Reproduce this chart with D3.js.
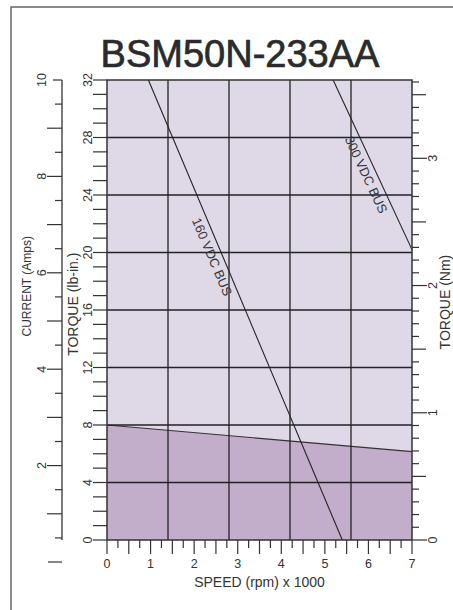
<!DOCTYPE html>
<html>
<head>
<meta charset="utf-8">
<script src="https://cdn.jsdelivr.net/npm/d3@7"></script>
<style>
  html, body { margin: 0; padding: 0; background: #fff; }
  svg { display: block; }
  text { font-family: "Liberation Sans", Arial, Helvetica, sans-serif; fill: #333; }
</style>
</head>
<body>
<svg id="chart" width="453" height="610"></svg>
<script>
// ---- data ----
const title = "BSM50N-233AA";
const speedTicks = [0, 1, 2, 3, 4, 5, 6, 7];           // krpm
const gridSpeeds = [1.4, 2.8, 4.2, 5.6];                // vertical grid lines (krpm)
const torqueTicks = [0, 4, 8, 12, 16, 20, 24, 28, 32];  // lb-in labels
const torqueGrid = [4, 8, 12, 16, 20, 24, 28];          // horizontal grid lines
const currentTicks = [2, 4, 6, 8, 10];                  // Amps labels
const nmTicks = [0, 1, 2, 3];                           // N·m labels
const contSpeed = [0, 7];                               // continuous-duty boundary
const contTorque = [8, 6.15];
const bus160Speed = [0.95, 5.40];
const bus160Torque = [32, 0];
const bus300Speed = [5.19, 7.0];
const bus300Torque = [32, 20.2];
const lineLabels = ["160 VDC BUS", "300 VDC BUS"];
const LBIN_PER_NM = 8.8507;

// ---- layout ----
const svg = d3.select("#chart");
const L = 107, R = 412, T = 80, B = 540;
const x = d3.scaleLinear().domain([0, 7]).range([L, R]);
const y = d3.scaleLinear().domain([0, 32]).range([B, T]);
const yA = d3.scaleLinear().domain([0, 10]).range([562, T]);
const yN = d3.scaleLinear().domain([0, 32 / LBIN_PER_NM]).range([B, T]);

// outer frame (only top/left visible)
svg.append("path").attr("d", `M11,610 L11,7 L453,7`)
  .attr("fill", "none").attr("stroke", "#666").attr("stroke-width", 1.5);

// title
svg.append("text").attr("x", 240).attr("y", 67).attr("text-anchor", "middle")
  .attr("font-size", 38).style("fill", "#2b2b2b")
  .attr("stroke", "#2b2b2b").attr("stroke-width", 0.7).text(title);

// regions
svg.append("rect").attr("x", L).attr("y", T).attr("width", R - L).attr("height", B - T)
  .attr("fill", "#dfd8e6");
const contPts = [[x(0), y(0)]].concat(contSpeed.map((s, i) => [x(s), y(contTorque[i])])).concat([[x(7), y(0)]]);
svg.append("path").attr("d", d3.line()(contPts)).attr("fill", "#c2aecb");
svg.append("path").attr("d", d3.line()(contSpeed.map((s, i) => [x(s), y(contTorque[i])])))
  .attr("stroke", "#333").attr("stroke-width", 1.2).attr("fill", "none");

// grid
svg.append("g").selectAll("line").data(gridSpeeds).join("line")
  .attr("x1", d => x(d)).attr("x2", d => x(d)).attr("y1", T).attr("y2", B)
  .attr("stroke", "#222").attr("stroke-width", 1.3);
svg.append("g").selectAll("line").data(torqueGrid).join("line")
  .attr("x1", L).attr("x2", R).attr("y1", d => y(d)).attr("y2", d => y(d))
  .attr("stroke", "#222").attr("stroke-width", 1.3);

// bus lines
const buses = [
  {s: bus160Speed, t: bus160Torque, label: lineLabels[0], frac: 0.376},
  {s: bus300Speed, t: bus300Torque, label: lineLabels[1], frac: 0.534}
];
buses.forEach(b => {
  const p0 = [x(b.s[0]), y(b.t[0])], p1 = [x(b.s[1]), y(b.t[1])];
  svg.append("line").attr("x1", p0[0]).attr("y1", p0[1]).attr("x2", p1[0]).attr("y2", p1[1])
    .attr("stroke", "#222").attr("stroke-width", 1.1);
  const ang = Math.atan2(p1[1] - p0[1], p1[0] - p0[0]);
  const px = p0[0] + (p1[0] - p0[0]) * b.frac, py = p0[1] + (p1[1] - p0[1]) * b.frac;
  const off = 10;
  const cx = px - Math.sin(ang) * off, cy = py + Math.cos(ang) * off;
  svg.append("text").attr("transform", `translate(${cx},${cy}) rotate(${ang * 180 / Math.PI})`)
    .attr("text-anchor", "middle").attr("dy", "0.35em").attr("font-size", 13).text(b.label);
});

// plot frame
svg.append("rect").attr("x", L).attr("y", T).attr("width", R - L).attr("height", B - T)
  .attr("fill", "none").attr("stroke", "#333").attr("stroke-width", 1.5);

// x axis ticks
const xMinor = d3.range(0, 7.001, 0.25);
svg.append("g").selectAll("line").data(xMinor).join("line")
  .attr("x1", d => x(d)).attr("x2", d => x(d)).attr("y1", B)
  .attr("y2", d => (Math.abs(d * 2 - Math.round(d * 2)) < 1e-6) ? B + 14 : B + 8)
  .attr("stroke", "#333").attr("stroke-width", 1.2);
svg.append("g").selectAll("text").data(speedTicks).join("text")
  .attr("x", d => x(d)).attr("y", 567.5).attr("text-anchor", "middle")
  .attr("font-size", 12.5).text(d => d);
svg.append("text").attr("x", x(3.5)).attr("y", 587).attr("text-anchor", "middle")
  .attr("font-size", 14).text("SPEED (rpm) x 1000");

// left torque axis (lb-in)
svg.append("g").selectAll("line").data(d3.range(0, 33, 1)).join("line")
  .attr("x1", L - 14).attr("x2", L).attr("y1", d => y(d)).attr("y2", d => y(d))
  .attr("stroke", "#333").attr("stroke-width", 1.2);
svg.append("g").selectAll("text").data(torqueTicks).join("text")
  .attr("transform", d => `translate(88,${y(d)}) rotate(-90)`)
  .attr("text-anchor", "middle").attr("dy", "0.35em").attr("font-size", 12.5).text(d => d);
svg.append("text").attr("transform", `translate(73,${y(16.4)}) rotate(-90)`)
  .attr("text-anchor", "middle").attr("dy", "0.35em").attr("font-size", 14).text("TORQUE (lb-in.)");

// current axis (Amps)
const AX = 62;
svg.append("line").attr("x1", AX).attr("x2", AX).attr("y1", yA(10)).attr("y2", B)
  .attr("stroke", "#333").attr("stroke-width", 1.3);
const aTicks = d3.range(0.5, 10.001, 0.5);
svg.append("g").selectAll("line").data(aTicks).join("line")
  .attr("x1", d => {
    if (Math.abs(d - 10) < 1e-6) return AX - 9;
    if (Math.abs(d - Math.round(d)) < 1e-6) return AX - 15;
    return AX - 7;
  })
  .attr("x2", AX).attr("y1", d => yA(d)).attr("y2", d => yA(d))
  .attr("stroke", "#333").attr("stroke-width", 1.2);
svg.append("line").attr("x1", AX - 14).attr("x2", AX).attr("y1", yA(0)).attr("y2", yA(0))
  .attr("stroke", "#333").attr("stroke-width", 1.2);
svg.append("g").selectAll("text").data(currentTicks).join("text")
  .attr("transform", d => `translate(42,${yA(d)}) rotate(-90)`)
  .attr("text-anchor", "middle").attr("dy", "0.35em").attr("font-size", 12.5).text(d => d);
svg.append("text").attr("transform", `translate(27,${yA(5.72)}) rotate(-90)`)
  .attr("text-anchor", "middle").attr("dy", "0.35em").attr("font-size", 12).text("CURRENT (Amps)");

// right torque axis (Nm)
const nMinor = d3.range(0, 3.6001, 0.1);
svg.append("g").selectAll("line").data(nMinor).join("line")
  .attr("x1", R)
  .attr("x2", d => {
    const r = Math.round(d * 10);
    if (r % 10 === 0) return R + 15;
    if (r % 5 === 0) return R + 14;
    return R + 7;
  })
  .attr("y1", d => yN(d)).attr("y2", d => yN(d))
  .attr("stroke", "#333").attr("stroke-width", 1.2);
svg.append("g").selectAll("text").data(nmTicks).join("text")
  .attr("transform", d => `translate(433,${yN(d)}) rotate(-90)`)
  .attr("text-anchor", "middle").attr("dy", "0.35em").attr("font-size", 12.5).text(d => d);
svg.append("text").attr("transform", `translate(445,${yN(1.87)}) rotate(-90)`)
  .attr("text-anchor", "middle").attr("dy", "0.35em").attr("font-size", 14).text("TORQUE (Nm)");
</script>
</body>
</html>
